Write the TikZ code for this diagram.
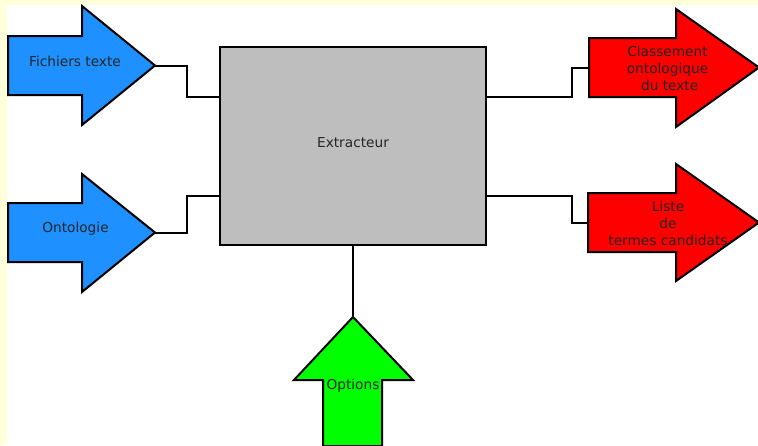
\documentclass[tikz,border=0pt]{standalone}
\usepackage{fontspec}
\setmainfont{DejaVu Sans}
\definecolor{inblue}{HTML}{1E90FF}
\definecolor{outred}{HTML}{FF0000}
\definecolor{optgreen}{HTML}{00FF00}
\definecolor{boxgray}{HTML}{BEBEBE}
\definecolor{bgyellow}{HTML}{FFFFDA}
\begin{document}
\begin{tikzpicture}[x=1pt,y=-1pt,
  shapeline/.style={draw=black,line width=2pt,line join=miter},
  inshape/.style={shapeline,fill=inblue},
  outshape/.style={shapeline,fill=outred},
  optshape/.style={shapeline,fill=optgreen},
  boxshape/.style={shapeline,fill=boxgray,rectangle,minimum width=266pt,minimum height=198pt,inner sep=0pt},
  lbl/.style={font=\fontsize{13.7}{17}\selectfont,align=center,inner sep=0pt,text=black!85},
  conn/.style={draw=black,line width=2pt}]
\useasboundingbox (0,0) rectangle (758,445);
\fill[bgyellow] (0,0) rectangle (758,445);
\fill[white] (7,5) rectangle (758,445);

% central box
\node[boxshape] (extr) at (353,146) {};
\node[lbl] (extrlbl) at (353,142.5) {Extracteur};

% named ends
\coordinate (fichtip) at (155,65.5);
\coordinate (ontotip) at (155,232.5);
\coordinate (classtail) at (589,67.5);
\coordinate (listetail) at (588,222.5);
\coordinate (opttip) at (353,317);

% connectors
\draw[conn] (fichtip) -- ++(32,0) |- (extr.west |- 0,97);
\draw[conn] (ontotip) -- ++(32,0) |- (extr.west |- 0,196);
\draw[conn] (extr.east |- 0,97) -- (572,97) |- (classtail);
\draw[conn] (extr.east |- 0,196) -- (572,196) |- (listetail);
\draw[conn] (extr.south) -- (opttip);

% input arrows
\draw[inshape] (8,36) -- (82,36) -- (82,6) -- (fichtip) -- (82,125) -- (82,95) -- (8,95) -- cycle;
\node[lbl] (fich) at (75,61.5) {Fichiers texte};
\draw[inshape] (8,203) -- (82,203) -- (82,174) -- (ontotip) -- (82,292) -- (82,262) -- (8,262) -- cycle;
\node[lbl] (onto) at (75.5,229) {Ontologie};

% output arrows
\draw[outshape] (classtail |- 0,38) -- (676,38) -- (676,9) -- (759,67.5) -- (676,127) -- (676,97) -- (classtail |- 0,97) -- cycle;
\node[lbl] (class) at (667.5,68) {Classement\\ontologique\\\ du texte};
\draw[outshape] (listetail |- 0,193) -- (676,193) -- (676,164) -- (759,222.5) -- (676,281) -- (676,252) -- (listetail |- 0,252) -- cycle;
\node[lbl] (liste) at (668,223) {Liste\\de\\termes candidats};

% options arrow
\draw[optshape] (opttip) -- (413,380) -- (382,380) -- (382,446) -- (323,446) -- (323,380) -- (294,380) -- cycle;
\node[lbl] (opt) at (353,386) {Options};
\end{tikzpicture}
\end{document}
